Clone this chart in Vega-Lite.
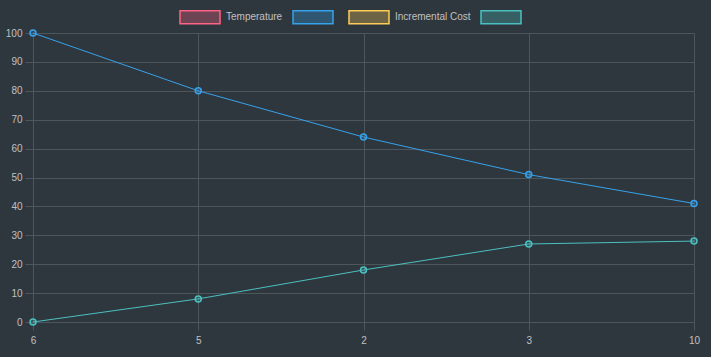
{
  "$schema": "https://vega.github.io/schema/vega-lite/v6.json",
  "width": 661,
  "height": 289,
  "autosize": {"type": "none"},
  "padding": {"left": 33, "top": 33, "right": 17, "bottom": 35},
  "background": "#2f373e",
  "config": {"view": {"stroke": null}, "font": "Liberation Sans"},
  "data": {
    "values": [
      {"label": "6", "series": "s2", "value": 100},
      {"label": "5", "series": "s2", "value": 80},
      {"label": "2", "series": "s2", "value": 64},
      {"label": "3", "series": "s2", "value": 51},
      {"label": "10", "series": "s2", "value": 41},
      {"label": "6", "series": "s4", "value": 0},
      {"label": "5", "series": "s4", "value": 8},
      {"label": "2", "series": "s4", "value": 18},
      {"label": "3", "series": "s4", "value": 27},
      {"label": "10", "series": "s4", "value": 28}
    ]
  },
  "encoding": {
    "x": {
      "field": "label", "type": "ordinal", "sort": null,
      "scale": {"type": "point", "padding": 0},
      "axis": {
        "title": null, "labelAngle": 0, "grid": true, "gridColor": "#4e565d",
        "domain": false, "tickColor": "#4e565d", "tickSize": 8,
        "labelColor": "#c0c0c0", "labelFontSize": 10, "labelPadding": 5,
        "labelFont": "Liberation Sans"
      }
    },
    "y": {
      "field": "value", "type": "quantitative",
      "scale": {"domain": [0, 100], "nice": false},
      "axis": {
        "title": null, "values": [0,10,20,30,40,50,60,70,80,90,100],
        "grid": true, "gridColor": "#4e565d", "domain": false,
        "tickColor": "#4e565d", "tickSize": 8,
        "labelColor": "#c0c0c0", "labelFontSize": 10, "labelPadding": 3,
        "labelFont": "Liberation Sans"
      }
    },
    "color": {
      "field": "series", "type": "nominal",
      "scale": {"domain": ["Temperature", "s2", "Incremental Cost", "s4"], "range": ["#ff6384", "#36a2eb", "#ffcd56", "#4bc0c0"]},
      "legend": {
        "orient": "none", "legendX": 146, "legendY": -37, "padding": 0,
        "direction": "horizontal", "columns": 4, "title": null,
        "symbolType": "M-1,-0.325H1V0.325H-1Z", "symbolSize": 1600,
        "symbolStrokeWidth": 1.5, "labelOffset": 5, "columnPadding": 7,
        "labelColor": "#c0c0c0", "labelFontSize": 10, "labelFont": "Liberation Sans",
        "labelExpr": "datum.label == 's2' || datum.label == 's4' ? '' : datum.label",
        "encode": {
          "symbols": {
            "update": {
              "fill": {"scale": "color", "field": "value"},
              "fillOpacity": {"value": 0.3},
              "stroke": {"scale": "color", "field": "value"},
              "opacity": {"value": 1}
            }
          }
        }
      }
    }
  },
  "layer": [
    {"mark": {"type": "line", "strokeWidth": 1}},
    {
      "mark": {"type": "point", "filled": true, "size": 36, "fillOpacity": 0.2, "strokeWidth": 1.5, "strokeOpacity": 1, "opacity": 1},
      "encoding": {
        "stroke": {
          "field": "series", "type": "nominal",
          "scale": {"domain": ["Temperature", "s2", "Incremental Cost", "s4"], "range": ["#ff6384", "#36a2eb", "#ffcd56", "#4bc0c0"]},
          "legend": null
        }
      }
    }
  ]
}
